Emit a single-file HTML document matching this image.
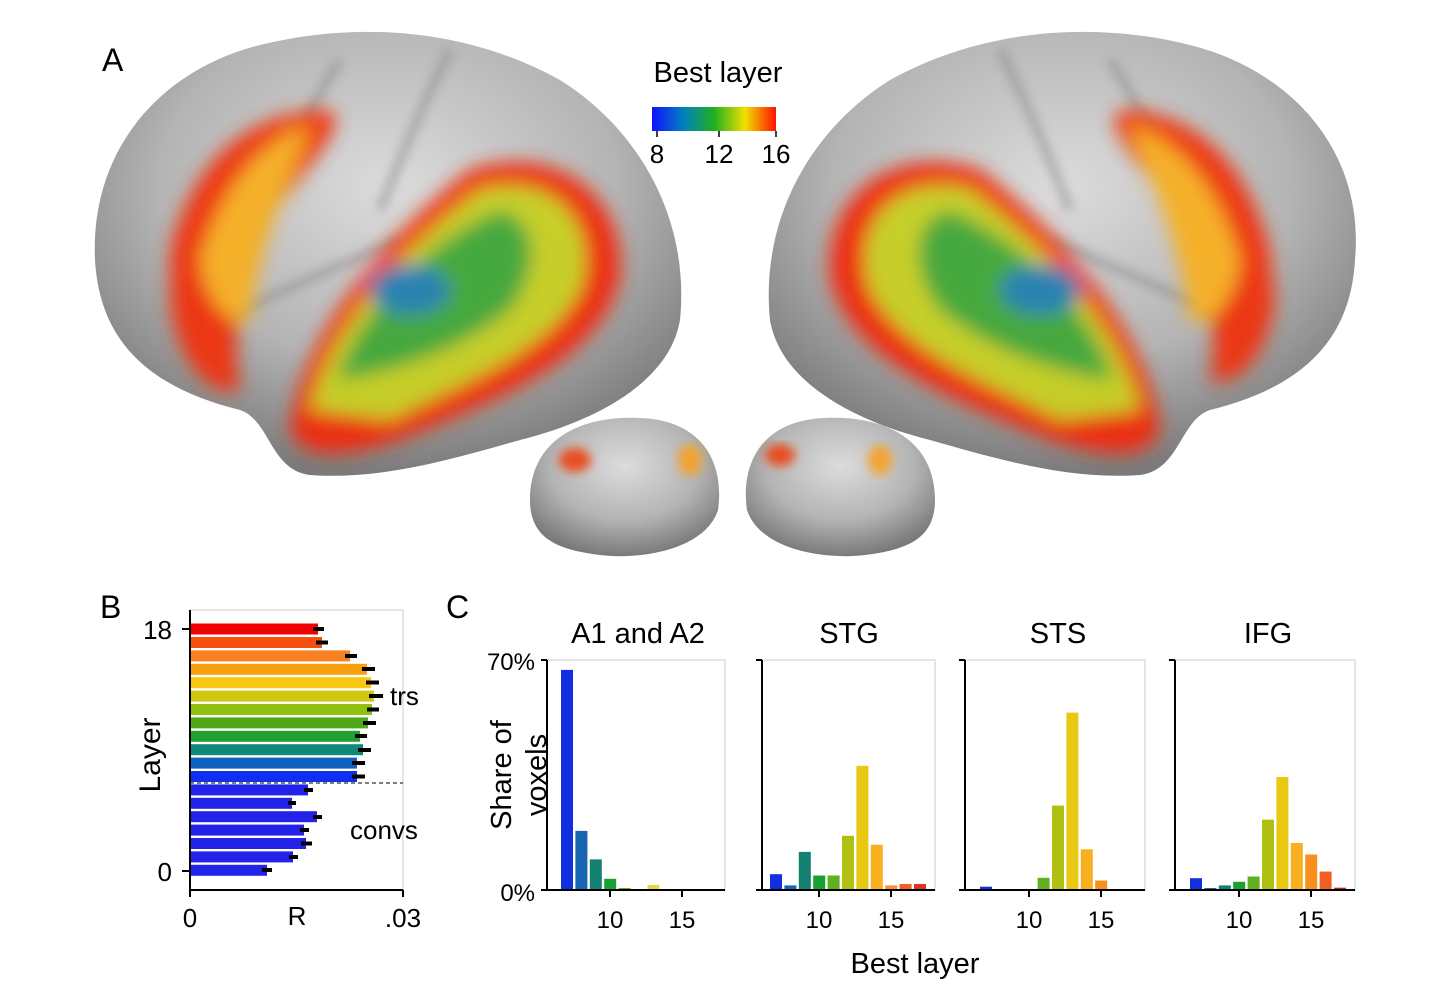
<!DOCTYPE html>
<html><head><style>body{margin:0;background:#fff}svg{display:block;font-family:"Liberation Sans","DejaVu Sans",sans-serif}</style></head>
<body>
<svg width="1439" height="995" viewBox="0 0 1439 995" xmlns="http://www.w3.org/2000/svg">
<defs>
<linearGradient id="cb" x1="0" x2="1"><stop offset="0" stop-color="#1010ff"/><stop offset=".25" stop-color="#0080c0"/><stop offset=".5" stop-color="#20b020"/><stop offset=".75" stop-color="#f0e000"/><stop offset="1" stop-color="#ff1000"/></linearGradient>
<radialGradient id="gb" cx=".5" cy=".35" r=".65"><stop offset="0" stop-color="#dcdcdc"/><stop offset=".6" stop-color="#b4b4b4"/><stop offset="1" stop-color="#7a7a7a"/></radialGradient>
<filter id="bl"><feGaussianBlur stdDeviation="9"/></filter>
<filter id="bl2"><feGaussianBlur stdDeviation="5"/></filter>
</defs>
<rect width="1439" height="995" fill="#fff"/>
<!-- Left brain -->
<path d="M95,260 C90,150 160,70 260,45 C360,20 470,30 560,80 C640,130 690,220 680,320 C670,380 600,420 520,440 C450,460 380,480 310,475 C270,470 270,420 240,410 C160,390 100,350 95,260Z" fill="url(#gb)"/>
<g stroke="#8a8a8a" stroke-width="10" fill="none" opacity=".5" filter="url(#bl2)"><path d="M340,60 C300,120 270,200 230,280"/><path d="M450,50 C420,110 400,160 380,210"/><path d="M200,330 C260,300 330,270 400,240"/></g>
<g filter="url(#bl)" opacity=".95">
<path d="M170,250 C190,170 240,110 330,110 C350,130 300,170 270,220 C240,280 230,340 240,390 C210,400 175,360 170,300Z" fill="#f03010"/>
<path d="M200,260 C220,190 260,140 310,125 C290,180 260,240 250,320 C230,330 205,300 200,260Z" fill="#f8b020"/>
<path d="M290,430 C300,340 380,240 470,170 C560,140 630,200 620,280 C600,360 500,400 400,440 C340,460 300,460 290,430Z" fill="#f02a10"/>
<path d="M310,410 C330,330 400,250 480,190 C560,170 600,230 580,290 C550,350 470,380 390,420Z" fill="#c8d020"/>
<path d="M340,370 C370,300 430,240 500,210 C540,220 540,270 510,310 C460,350 400,370 340,380Z" fill="#40a838"/>
<ellipse cx="410" cy="290" rx="40" ry="25" fill="#2080b0"/>
</g>
<!-- Right brain -->
<path d="M1355,260 C1365,150 1290,70 1190,45 C1090,20 980,30 890,80 C810,130 760,220 770,320 C780,380 850,420 930,440 C1000,460 1070,480 1140,475 C1180,470 1180,420 1210,410 C1290,390 1350,350 1355,260Z" fill="url(#gb)"/>
<g stroke="#8a8a8a" stroke-width="10" fill="none" opacity=".5" filter="url(#bl2)"><path d="M1110,60 C1150,120 1180,200 1220,280"/><path d="M1000,50 C1030,110 1050,160 1070,210"/><path d="M1250,330 C1190,300 1120,270 1050,240"/></g>
<g filter="url(#bl)" opacity=".95">
<path d="M1270,250 C1250,170 1200,110 1120,110 C1100,130 1150,170 1180,220 C1210,280 1220,340 1210,380 C1240,390 1270,350 1275,300Z" fill="#f03010"/>
<path d="M1240,260 C1220,190 1180,140 1130,125 C1150,180 1180,240 1190,320 C1210,330 1235,300 1240,260Z" fill="#f8b020"/>
<path d="M1160,430 C1150,340 1070,240 980,170 C890,140 820,200 830,280 C850,360 950,400 1050,440 C1110,460 1150,460 1160,430Z" fill="#f02a10"/>
<path d="M1140,410 C1120,330 1050,250 970,190 C890,170 850,230 870,290 C900,350 980,380 1060,420Z" fill="#c8d020"/>
<path d="M1110,370 C1080,300 1020,240 950,210 C910,220 910,270 940,310 C990,350 1050,370 1110,380Z" fill="#40a838"/>
<ellipse cx="1040" cy="290" rx="40" ry="25" fill="#2080b0"/>
</g>
<!-- medial -->
<path d="M530,500 C530,440 580,415 640,418 C700,420 725,460 718,510 C705,550 640,560 600,555 C560,550 530,540 530,500Z" fill="url(#gb)"/>
<path d="M935,500 C935,440 885,415 825,418 C765,420 740,460 747,510 C760,550 825,560 865,555 C905,550 935,540 935,500Z" fill="url(#gb)"/>
<g filter="url(#bl2)" opacity=".9"><ellipse cx="575" cy="460" rx="16" ry="12" fill="#f04010"/><ellipse cx="690" cy="460" rx="12" ry="16" fill="#f8a020"/><ellipse cx="780" cy="455" rx="15" ry="11" fill="#f04010"/><ellipse cx="880" cy="460" rx="12" ry="15" fill="#f8a020"/></g>
<text x="102" y="71" font-size="32">A</text>
<text x="718" y="82" font-size="29" text-anchor="middle">Best layer</text>
<rect x="652" y="107" width="124" height="24" fill="url(#cb)"/>
<g stroke="#000" stroke-width="1.5"><line x1="657" y1="131" x2="657" y2="137"/><line x1="719" y1="131" x2="719" y2="137"/><line x1="776" y1="131" x2="776" y2="137"/></g>
<g font-size="26" text-anchor="middle"><text x="657" y="163">8</text><text x="719" y="163">12</text><text x="776" y="163">16</text></g>
<!-- Panel B -->
<text x="100" y="618" font-size="32">B</text>
<rect x="190" y="610" width="213" height="280" fill="none" stroke="#ccc" stroke-width="1"/>
<g>
<rect x="190" y="623.5" width="128" height="11" fill="#f00000"/>
<rect x="190" y="637" width="132" height="11" fill="#f85010"/>
<rect x="190" y="650.4" width="160" height="11" fill="#f88020"/>
<rect x="190" y="663.8" width="177" height="11" fill="#f8a010"/>
<rect x="190" y="677.2" width="181" height="11" fill="#f8c810"/>
<rect x="190" y="690.6" width="184" height="11" fill="#d0c810"/>
<rect x="190" y="704" width="182" height="11" fill="#90c010"/>
<rect x="190" y="717.4" width="178" height="11" fill="#50a818"/>
<rect x="190" y="730.8" width="170" height="11" fill="#20a030"/>
<rect x="190" y="744.2" width="173" height="11" fill="#108878"/>
<rect x="190" y="757.6" width="167" height="11" fill="#1060c0"/>
<rect x="190" y="771" width="167" height="11" fill="#1030f0"/>
<rect x="190" y="784.4" width="118" height="11" fill="#2222e8"/>
<rect x="190" y="797.8" width="102" height="11" fill="#2222e8"/>
<rect x="190" y="811.2" width="127" height="11" fill="#2222e8"/>
<rect x="190" y="824.6" width="114" height="11" fill="#2222e8"/>
<rect x="190" y="838" width="116" height="11" fill="#2222e8"/>
<rect x="190" y="851.4" width="103" height="11" fill="#2222e8"/>
<rect x="190" y="864.8" width="77" height="11" fill="#2222e8"/>
</g>
<g stroke="#000" stroke-width="4">
<line x1="313" y1="629" x2="324" y2="629"/><line x1="316" y1="642.5" x2="328" y2="642.5"/><line x1="345" y1="656" x2="357" y2="656"/><line x1="362" y1="669" x2="375" y2="669"/><line x1="366" y1="682.5" x2="379" y2="682.5"/><line x1="369" y1="696" x2="383" y2="696"/><line x1="367" y1="709.5" x2="379" y2="709.5"/><line x1="363" y1="723" x2="376" y2="723"/><line x1="355" y1="736" x2="367" y2="736"/><line x1="358" y1="750" x2="371" y2="750"/><line x1="352" y1="763" x2="365" y2="763"/><line x1="352" y1="776.5" x2="365" y2="776.5"/><line x1="304" y1="790" x2="313" y2="790"/><line x1="288" y1="803" x2="296" y2="803"/><line x1="313" y1="817" x2="322" y2="817"/><line x1="300" y1="830" x2="309" y2="830"/><line x1="301" y1="843.5" x2="312" y2="843.5"/><line x1="289" y1="857" x2="298" y2="857"/><line x1="262" y1="870" x2="272" y2="870"/>
</g>
<line x1="190" y1="783" x2="403" y2="783" stroke="#000" stroke-width="1" stroke-dasharray="4,3"/>
<g stroke="#000" stroke-width="2"><line x1="190" y1="610" x2="190" y2="890"/><line x1="190" y1="890" x2="403" y2="890"/><line x1="182" y1="629" x2="190" y2="629"/><line x1="182" y1="871" x2="190" y2="871"/><line x1="190" y1="890" x2="190" y2="897"/><line x1="403" y1="890" x2="403" y2="897"/></g>
<g font-size="26"><text x="172" y="639" text-anchor="end">18</text><text x="172" y="881" text-anchor="end">0</text><text x="190" y="927" text-anchor="middle">0</text><text x="297" y="925" text-anchor="middle">R</text><text x="403" y="927" text-anchor="middle">.03</text><text x="390" y="705">trs</text><text x="350" y="839">convs</text></g>
<text transform="translate(160,755) rotate(-90)" font-size="30" text-anchor="middle">Layer</text>
<!-- Panel C -->
<text x="446" y="618" font-size="32">C</text>
<g font-size="29" text-anchor="middle"><text x="638" y="643">A1 and A2</text><text x="849" y="643">STG</text><text x="1058" y="643">STS</text><text x="1268" y="643">IFG</text></g>
<text transform="translate(511,775) rotate(-90)" font-size="29" text-anchor="middle">Share of</text>
<text transform="translate(546,775) rotate(-90)" font-size="29" text-anchor="middle">voxels</text>
<g font-size="24" text-anchor="end"><text x="535" y="670">70%</text><text x="535" y="901">0%</text></g>
<text x="915" y="973" font-size="29" text-anchor="middle">Best layer</text>
<g fill="none" stroke="#ccc"><rect x="547" y="660" width="178" height="230"/><rect x="762" y="660" width="173" height="230"/><rect x="965" y="660" width="180" height="230"/><rect x="1175" y="660" width="180" height="230"/></g>
<g>
<rect x="561" y="669.9" width="12" height="220.1" fill="#1030e0"/>
<rect x="575.4" y="830.9" width="12" height="59.1" fill="#1565b0"/>
<rect x="589.8" y="859.4" width="12" height="30.6" fill="#138070"/>
<rect x="604.2" y="878.8" width="12" height="11.2" fill="#18a030"/>
<rect x="618.6" y="888" width="12" height="2" fill="#60b020"/>
<rect x="647.4" y="885" width="12" height="5" fill="#e8d840"/>
</g>
<g>
<rect x="770" y="874.2" width="12" height="15.8" fill="#1030e0"/>
<rect x="784.4" y="885.4" width="12" height="4.6" fill="#1565b0"/>
<rect x="798.8" y="851.9" width="12" height="38.1" fill="#138070"/>
<rect x="813.2" y="875.5" width="12" height="14.5" fill="#18a030"/>
<rect x="827.6" y="875.5" width="12" height="14.5" fill="#60b020"/>
<rect x="842" y="835.8" width="12" height="54.2" fill="#b0c010"/>
<rect x="856.4" y="765.8" width="12" height="124.2" fill="#e8c810"/>
<rect x="870.8" y="844.7" width="12" height="45.3" fill="#f8b020"/>
<rect x="885.2" y="885.4" width="12" height="4.6" fill="#f89040"/>
<rect x="899.6" y="884" width="12" height="6" fill="#f06020"/>
<rect x="914" y="884" width="12" height="6" fill="#e03020"/>
</g>
<g>
<rect x="980" y="886.7" width="12" height="3.3" fill="#1030e0"/>
<rect x="1037.6" y="877.8" width="12" height="12.2" fill="#60b020"/>
<rect x="1052" y="805.6" width="12" height="84.4" fill="#b0c010"/>
<rect x="1066.4" y="712.6" width="12" height="177.4" fill="#e8c810"/>
<rect x="1080.8" y="849.3" width="12" height="40.7" fill="#f8b020"/>
<rect x="1095.2" y="880.5" width="12" height="9.5" fill="#f89020"/>
</g>
<g>
<rect x="1190" y="878.2" width="12" height="11.8" fill="#1030e0"/>
<rect x="1204.4" y="888" width="12" height="2" fill="#1565b0"/>
<rect x="1218.8" y="885.4" width="12" height="4.6" fill="#138070"/>
<rect x="1233.2" y="881.8" width="12" height="8.2" fill="#18a030"/>
<rect x="1247.6" y="876.5" width="12" height="13.5" fill="#60b020"/>
<rect x="1262" y="819.7" width="12" height="70.3" fill="#b0c010"/>
<rect x="1276.4" y="777" width="12" height="113" fill="#e8c810"/>
<rect x="1290.8" y="843" width="12" height="47" fill="#f8b020"/>
<rect x="1305.2" y="854.5" width="12" height="35.5" fill="#f89020"/>
<rect x="1319.6" y="871.6" width="12" height="18.4" fill="#f06020"/>
<rect x="1334" y="887.7" width="12" height="2.3" fill="#c02020"/>
</g>
<g stroke="#000" stroke-width="2">
<line x1="547" y1="660" x2="547" y2="890"/><line x1="547" y1="890" x2="725" y2="890"/><line x1="541" y1="660" x2="547" y2="660"/><line x1="541" y1="890" x2="547" y2="890"/>
<line x1="610" y1="890" x2="610" y2="897"/><line x1="682" y1="890" x2="682" y2="897"/>
<line x1="762" y1="660" x2="762" y2="890"/><line x1="756" y1="890" x2="935" y2="890"/><line x1="756" y1="660" x2="762" y2="660"/>
<line x1="819" y1="890" x2="819" y2="897"/><line x1="891" y1="890" x2="891" y2="897"/>
<line x1="965" y1="660" x2="965" y2="890"/><line x1="959" y1="890" x2="1145" y2="890"/><line x1="959" y1="660" x2="965" y2="660"/>
<line x1="1029" y1="890" x2="1029" y2="897"/><line x1="1101" y1="890" x2="1101" y2="897"/>
<line x1="1175" y1="660" x2="1175" y2="890"/><line x1="1169" y1="890" x2="1355" y2="890"/><line x1="1169" y1="660" x2="1175" y2="660"/>
<line x1="1239" y1="890" x2="1239" y2="897"/><line x1="1311" y1="890" x2="1311" y2="897"/>
</g>
<g font-size="24" text-anchor="middle">
<text x="610" y="928">10</text><text x="682" y="928">15</text>
<text x="819" y="928">10</text><text x="891" y="928">15</text>
<text x="1029" y="928">10</text><text x="1101" y="928">15</text>
<text x="1239" y="928">10</text><text x="1311" y="928">15</text>
</g>
</svg>
</body></html>
